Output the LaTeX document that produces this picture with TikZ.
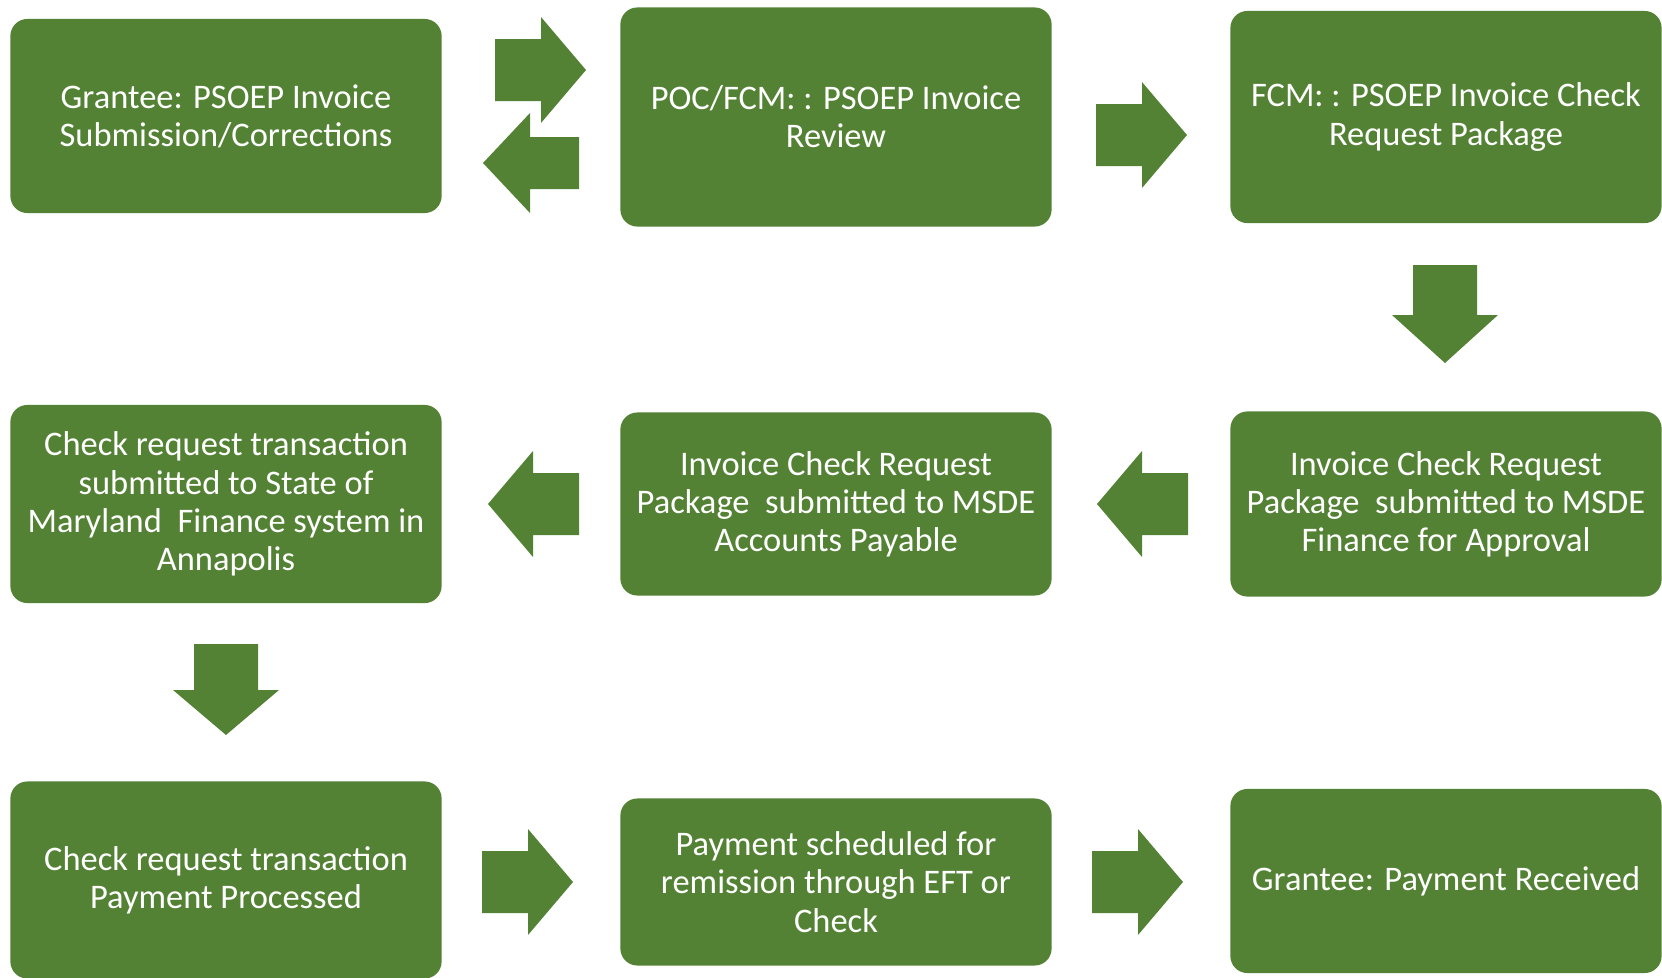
\documentclass[tikz,border=0pt]{standalone}
\usepackage{fontspec}
\setmainfont{Carlito}
\usetikzlibrary{positioning}
\definecolor{stagegreen}{RGB}{84,130,53}
\tikzset{
  stage/.style={fill=stagegreen, rounded corners=0.17cm, text=white, align=center,
    inner sep=0pt, minimum width=4.31cm, font=\fontsize{9.8}{10.85}\selectfont},
}
% tip x, tip y, rotation, length, head length, shaft half, head half
\newcommand{\blockarrow}[7]{%
  \fill[stagegreen, shift={(#1,#2)}, rotate=#3] (0,0) -- (-#5,#7) -- (-#5,#6) -- (-#4,#6)
    -- (-#4,-#6) -- (-#5,-#6) -- (-#5,-#7) -- cycle;}

\begin{document}
\begin{tikzpicture}[x=0.01cm, y=-0.01cm]
 \useasboundingbox (0,0) rectangle (1662,978);
 % first row
 \node[stage, minimum height=1.94cm] (submit) at (226,116) {Grantee: PSOEP Invoice\\Submission/Corrections};
 \node[stage, minimum height=2.19cm] (review) at (836,117) {POC/FCM: : PSOEP Invoice\\Review};
 \node[stage, minimum height=2.12cm] (package) at (1446,117) {FCM: : PSOEP Invoice Check\\Request Package};
 % second row
 \node[stage, minimum height=1.98cm] (statefin) at (226,504) {Check request transaction\\submitted to State of\\Maryland\ \ Finance system in\\Annapolis};
 \node[stage, minimum height=1.83cm] (payable) at (836,504) {Invoice Check Request\\Package\ \ submitted to MSDE\\Accounts Payable};
 \node[stage, minimum height=1.85cm] (approval) at (1446,504) {Invoice Check Request\\Package\ \ submitted to MSDE\\Finance for Approval};
 % third row
 \node[stage, minimum height=1.97cm] (processed) at (226,880) {Check request transaction\\Payment Processed};
 \node[stage, minimum height=1.67cm] (scheduled) at (836,882) {Payment scheduled for\\remission through EFT or\\Check};
 \node[stage, minimum height=1.84cm] (received) at (1446,881) {Grantee: Payment Received};
 % block arrows
 \blockarrow{586}{70}{0}{91}{45}{31}{53}
 \blockarrow{483}{163}{180}{96}{47}{26}{50}
 \blockarrow{1187}{135}{0}{91}{45}{31}{53}
 \blockarrow{1445}{363}{-90}{98}{48}{32}{53}
 \blockarrow{1097}{504}{180}{91}{45}{31}{53}
 \blockarrow{488}{504}{180}{91}{45}{31}{53}
 \blockarrow{226}{735}{-90}{91}{45}{32}{53}
 \blockarrow{573}{882}{0}{91}{45}{31}{53}
 \blockarrow{1183}{882}{0}{91}{45}{31}{53}
\end{tikzpicture}
\end{document}
